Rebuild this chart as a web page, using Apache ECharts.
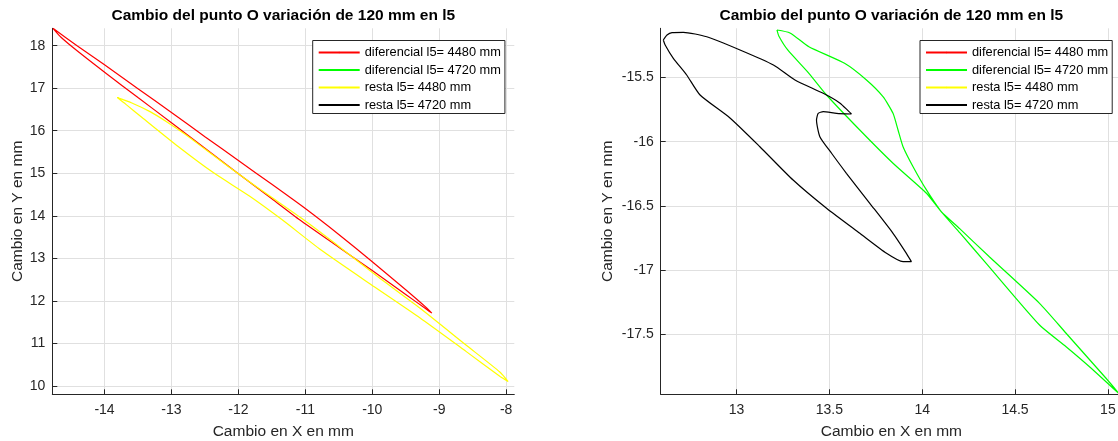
<!DOCTYPE html>
<html>
<head>
<meta charset="utf-8">
<script src="https://cdn.jsdelivr.net/npm/echarts@6/dist/echarts.min.js"></script>
<style>
html, body { margin: 0; padding: 0; background: #fff; }
#chart { width: 1118px; height: 441px; }
</style>
</head>
<body>
<div id="chart"></div>
<script>
// names shown in both legends
var seriesNames = ['diferencial l5= 4480 mm', 'diferencial l5= 4720 mm', 'resta l5= 4480 mm', 'resta l5= 4720 mm'];
var seriesColors = ['#ff0000', '#00ff00', '#ffff00', '#000000'];
var titleText = 'Cambio del punto O variación de 120 mm en l5';

// traced loops, [x, y] in mm
var dif4480 = [
  [-14.77, 18.41], [-14.41, 18.0], [-14.0, 17.55], [-13.5, 16.99], [-13.0, 16.43], [-12.5, 15.86],
  [-12.0, 15.30], [-11.5, 14.74], [-11.0, 14.17], [-10.5, 13.56], [-10.0, 12.92], [-9.5, 12.26],
  [-9.2, 11.85], [-9.11, 11.71],
  [-9.2, 11.81], [-9.5, 12.15], [-10.0, 12.71], [-10.5, 13.26], [-11.08, 13.90], [-11.5, 14.40],
  [-12.0, 14.99], [-12.5, 15.59], [-13.0, 16.19], [-13.5, 16.78], [-13.96, 17.33], [-14.4, 17.87],
  [-14.65, 18.2], [-14.77, 18.41]
];
var dif4720 = [
  [13.218, -15.129], [13.288, -15.152], [13.390, -15.260], [13.582, -15.389], [13.700, -15.519],
  [13.789, -15.649], [13.843, -15.779], [13.870, -15.909], [13.897, -16.039], [13.951, -16.195],
  [14.023, -16.376], [14.103, -16.546],
  [14.202, -16.709], [14.347, -16.952], [14.632, -17.429], [14.775, -17.598], [14.901, -17.754],
  [15.062, -17.967],
  [14.990, -17.844], [14.775, -17.493], [14.632, -17.260], [14.363, -16.899], [14.202, -16.678],
  [14.103, -16.546],
  [14.023, -16.402], [13.843, -16.168], [13.664, -15.909], [13.485, -15.636], [13.390, -15.467],
  [13.276, -15.285], [13.228, -15.176], [13.218, -15.129]
];
var resta4480 = [
  [-13.81, 16.78], [-13.6, 16.66], [-13.32, 16.45], [-13.05, 16.19], [-12.79, 15.91], [-12.5, 15.57],
  [-12.15, 15.16], [-11.8, 14.76], [-11.51, 14.44], [-11.03, 13.91], [-10.45, 13.22], [-9.92, 12.57],
  [-9.29, 11.83], [-8.6, 10.96], [-8.09, 10.32], [-7.97, 10.10],
  [-8.09, 10.22], [-8.6, 10.81], [-9.29, 11.60], [-9.97, 12.33], [-10.77, 13.20], [-11.35, 13.91],
  [-11.83, 14.46], [-12.37, 15.01], [-12.90, 15.63], [-13.43, 16.30], [-13.68, 16.62], [-13.81, 16.78]
];
var resta4720 = [
  [12.606, -15.207], [12.626, -15.168], [12.653, -15.149], [12.714, -15.147], [12.840, -15.182],
  [13.019, -15.285], [13.199, -15.402], [13.315, -15.519], [13.467, -15.623], [13.556, -15.698],
  [13.619, -15.784],
  [13.539, -15.779], [13.467, -15.766], [13.440, -15.779], [13.431, -15.831], [13.449, -15.961],
  [13.512, -16.090], [13.592, -16.246], [13.718, -16.480], [13.843, -16.714], [13.915, -16.870],
  [13.942, -16.935],
  [13.897, -16.935], [13.808, -16.870], [13.664, -16.714], [13.485, -16.519], [13.305, -16.299],
  [13.126, -16.039], [12.965, -15.815], [12.804, -15.636], [12.732, -15.480], [12.660, -15.350],
  [12.616, -15.246], [12.606, -15.207]
];
var allData = [dif4480, dif4720, resta4480, resta4720];

// axis limits of the two subplots
var xLimits = [[-14.78, -7.878], [12.592, 15.076]];
var yLimits = [[9.80, 18.41], [-17.969, -15.116]];
var tickStep = [1, 0.5];

var font = 'Liberation Sans';
var gridLeft = [52.3, 660.7];

function makeAxis(dir, i) {
  var lim = dir === 'x' ? xLimits[i] : yLimits[i];
  var ax = {
    type: 'value',
    gridIndex: i,
    min: lim[0],
    max: lim[1],
    minInterval: tickStep[i],
    maxInterval: tickStep[i],
    axisLine: { show: true, onZero: false, lineStyle: { color: '#262626', width: 1 } },
    axisTick: { show: true, inside: true, length: 5, lineStyle: { color: '#262626' } },
    axisLabel: {
      color: '#262626', fontSize: 14, fontFamily: font,
      showMinLabel: false, showMaxLabel: false,
      margin: dir === 'x' ? 9 : 7
    },
    splitLine: { show: true, showMinLine: false, showMaxLine: false, lineStyle: { color: '#e0e0e0', width: 1 } },
    name: dir === 'x' ? 'Cambio en X en mm' : 'Cambio en Y en mm',
    nameLocation: 'middle',
    nameTextStyle: { color: '#262626', fontSize: 15.5, fontFamily: font },
    nameGap: dir === 'x' ? 29 : (i === 0 ? 27 : 45)
  };
  if (dir === 'y') ax.nameRotate = 90;
  return ax;
}

var series = [];
for (var g = 0; g < 2; g++) {
  for (var s = 0; s < 4; s++) {
    series.push({
      type: 'line',
      name: seriesNames[s],
      xAxisIndex: g,
      yAxisIndex: g,
      data: allData[s],
      symbol: 'none',
      smooth: 0.2,
      clip: true,
      color: seriesColors[s],
      lineStyle: { color: seriesColors[s], width: 1.2 },
      z: 2 + s
    });
  }
}

function makeLegend(left) {
  return {
    orient: 'vertical',
    left: left,
    top: 40.5,
    itemWidth: 41,
    itemHeight: 2,
    itemGap: 4.5,
    padding: [5.5, 4, 2, 5],
    borderColor: '#262626',
    borderWidth: 1,
    backgroundColor: '#ffffff',
    itemStyle: { borderWidth: 0 },
    textStyle: { color: '#000', fontSize: 12.8, fontFamily: font },
    data: seriesNames
  };
}

var chart = echarts.init(document.getElementById('chart'));
chart.setOption({
  animation: false,
  backgroundColor: '#ffffff',
  grid: [
    { left: gridLeft[0], top: 28.3, width: 462, height: 366, outerBoundsMode: 'none' },
    { left: gridLeft[1], top: 28.3, width: 461.3, height: 366, outerBoundsMode: 'none' }
  ],
  xAxis: [makeAxis('x', 0), makeAxis('x', 1)],
  yAxis: [makeAxis('y', 0), makeAxis('y', 1)],
  legend: [makeLegend(312.7), makeLegend(920)],
  graphic: [
    { type: 'text', x: 283.3, y: 16, style: { text: titleText, font: 'bold 15.5px "Liberation Sans"', fill: '#000', textAlign: 'center', textVerticalAlign: 'middle' } },
    { type: 'text', x: 891.3, y: 16, style: { text: titleText, font: 'bold 15.5px "Liberation Sans"', fill: '#000', textAlign: 'center', textVerticalAlign: 'middle' } }
  ],
  series: series
});
</script>
</body>
</html>
